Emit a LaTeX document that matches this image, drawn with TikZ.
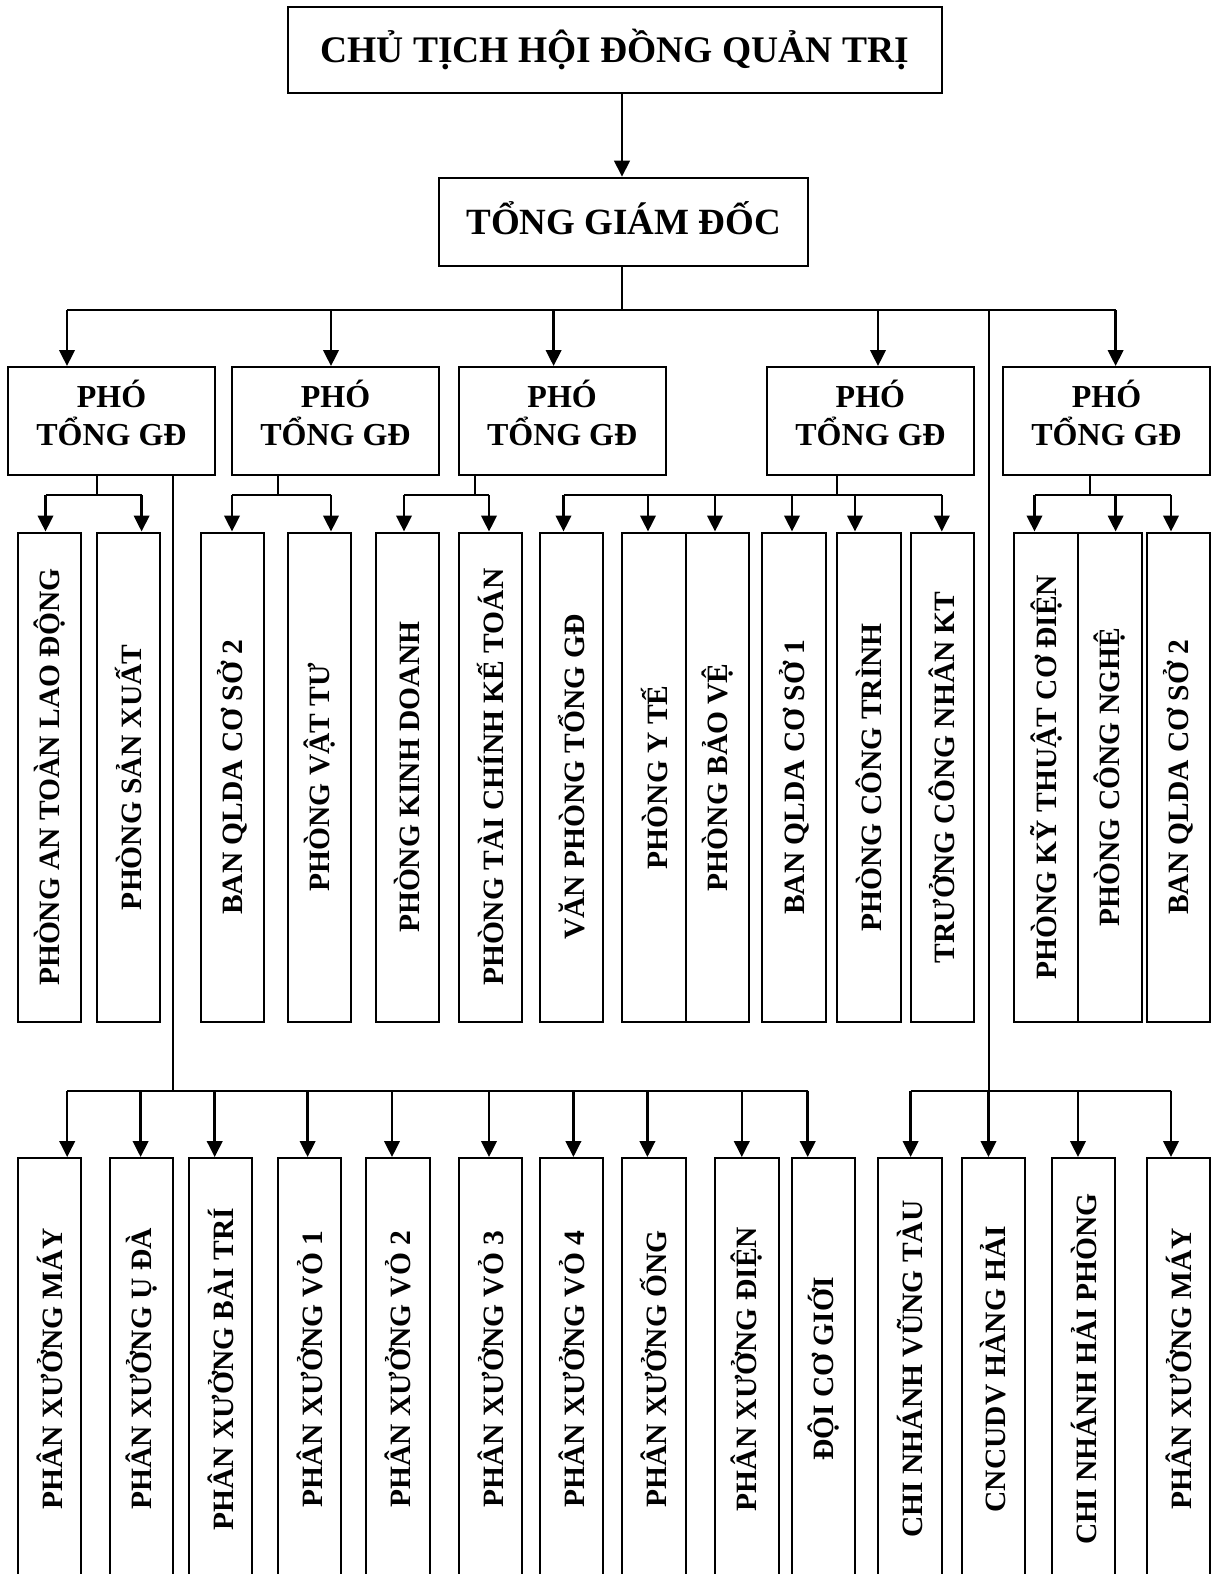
\documentclass[tikz,border=0pt]{standalone}
\usepackage{fontspec}
\usepackage{graphicx}
\setmainfont{Liberation Serif}
\usetikzlibrary{arrows.meta}

\tikzset{
  unit/.style={draw, line width=2pt, inner sep=0pt, font=\bfseries},
  wire/.style={line width=2pt},
  trunk/.style={line width=1.7pt},
  arr/.style={line width=2.5pt, -{Triangle[length=16pt,width=15.5pt]}},
  vtext/.style={font=\bfseries\fontsize{29.5}{32}\selectfont},
  deputy/.style={align=center, text depth=17pt, font=\bfseries\fontsize{32}{38}\selectfont},
}

% box from (x1,y1) to (x2,y2): \unitbox[options]{name}{x1}{y1}{x2}{y2}{text}
\newcommand\unitbox[7][]{%
  \pgfmathsetmacro\ubw{#5-#3}\pgfmathsetmacro\ubh{#6-#4}%
  \pgfmathsetmacro\ubx{(#3+#5)/2}\pgfmathsetmacro\uby{(#4+#6)/2}%
  \node[unit,minimum width=\ubw pt,minimum height=\ubh pt,#1] (#2) at (\ubx,\uby) {#7};}
\newcommand\up[1]{\rotatebox{90}{#1}}

\begin{document}
\begin{tikzpicture}[x=1pt,y=-1pt]
\useasboundingbox (0,0) rectangle (1211,1574);

% chairman and general director
\unitbox[font=\bfseries\fontsize{37.5}{40}\selectfont]{chair}{287.7}{6.7}{941.5}{92.7}{CHỦ TỊCH HỘI ĐỒNG QUẢN TRỊ}
\unitbox[text depth=8pt,font=\bfseries\fontsize{37}{40}\selectfont]{tgd}{439.4}{177.7}{807.8}{266}{TỔNG GIÁM ĐỐC}
\coordinate (cx) at (622,0);
\draw[arr] (cx |- chair.south) -- (cx |- tgd.north);

% deputy directors
\unitbox[deputy]{pgd1}{8}{367}{215}{475}{PHÓ\\TỔNG GĐ}
\unitbox[deputy]{pgd2}{232}{367}{439}{475}{PHÓ\\TỔNG GĐ}
\unitbox[deputy]{pgd3}{458.7}{367}{665.6}{475}{PHÓ\\TỔNG GĐ}
\unitbox[deputy]{pgd4}{766.8}{367}{974}{475}{PHÓ\\TỔNG GĐ}
\unitbox[deputy]{pgd5}{1003}{367}{1210}{475}{PHÓ\\TỔNG GĐ}

\coordinate (hub) at (622,310);
\draw[wire] (hub |- tgd.south) -- (hub);
\foreach \x/\n in {67/pgd1,331/pgd2,553.6/pgd3,878/pgd4,1115.6/pgd5}{
  \coordinate (tap-\n) at (\x,310);
  \draw[arr] (tap-\n) -- (tap-\n |- \n.north);
}
\draw[wire] (tap-pgd1) -- (tap-pgd5);

% departments
\unitbox[vtext]{ra}{18}{532.5}{81}{1022}{\up{PHÒNG AN TOÀN LAO ĐỘNG}}
\unitbox[vtext]{rb}{97}{532.5}{160}{1022}{\up{PHÒNG SẢN XUẤT}}
\unitbox[vtext]{rc}{201}{532.5}{264}{1022}{\up{BAN QLDA CƠ SỞ 2}}
\unitbox[vtext]{rd}{287.5}{532.5}{351}{1022}{\up{PHÒNG VẬT TƯ}}
\unitbox[vtext]{re}{375.6}{532.5}{439}{1022}{\up{PHÒNG KINH DOANH}}
\unitbox[vtext]{rf}{458.7}{532.5}{522}{1022}{\up{PHÒNG TÀI CHÍNH KẾ TOÁN}}
\unitbox[vtext]{rg}{539.7}{532.5}{603}{1022}{\up{VĂN PHÒNG TỔNG GĐ}}
\unitbox[vtext]{rh}{622}{532.5}{686}{1022}{\up{PHÒNG Y TẾ}}
\unitbox[vtext]{ri}{686}{532.5}{749}{1022}{\up{PHÒNG BẢO VỆ}}
\unitbox[vtext]{rj}{762}{532.5}{826}{1022}{\up{BAN QLDA CƠ SỞ 1}}
\unitbox[vtext]{rk}{837}{532.5}{901}{1022}{\up{PHÒNG CÔNG TRÌNH}}
\unitbox[vtext]{rl}{910.6}{532.5}{974}{1022}{\up{TRƯỞNG CÔNG NHÂN KT}}
\unitbox[vtext]{rm}{1014}{532.5}{1078}{1022}{\up{PHÒNG KỸ THUẬT CƠ ĐIỆN}}
\unitbox[vtext]{rn}{1078}{532.5}{1142}{1022}{\up{PHÒNG CÔNG NGHỆ}}
\unitbox[vtext]{ro}{1147}{532.5}{1210}{1022}{\up{BAN QLDA CƠ SỞ 2}}

% department feeders: stem x under each deputy
\foreach \s/\p in {97/pgd1,278/pgd2,475/pgd3,837/pgd4,1090/pgd5}{
  \coordinate (stem-\p) at (\s,495);
  \draw[wire] (stem-\p |- \p.south) -- (stem-\p);
}
\foreach \x/\n in {45.5/ra,141.6/rb,232/rc,331/rd,404/re,489/rf,563.5/rg,648/rh,715/ri,792/rj,855/rk,941.8/rl,1034.5/rm,1115.6/rn,1171/ro}{
  \coordinate (tap-\n) at (\x,495);
  \draw[arr] (tap-\n) -- (tap-\n |- \n.north);
}
\draw[wire] (tap-ra) -- (tap-rb);
\draw[wire] (tap-rc) -- (tap-rd);
\draw[wire] (tap-re) -- (tap-rf);
\draw[wire] (tap-rg) -- (tap-rl);
\draw[wire] (tap-rm) -- (tap-ro);

% workshops and branches
\unitbox[vtext]{wa}{17.8}{1158}{81}{1580}{\up{PHÂN XƯỞNG MÁY}}
\unitbox[vtext]{wb}{110}{1158}{173}{1580}{\up{PHÂN XƯỞNG Ụ ĐÀ}}
\unitbox[vtext]{wc}{189}{1158}{252}{1580}{\up{PHÂN XƯỞNG BÀI TRÍ}}
\unitbox[vtext]{wd}{278}{1158}{341}{1580}{\up{PHÂN XƯỞNG VỎ 1}}
\unitbox[vtext]{we}{366}{1158}{430}{1580}{\up{PHÂN XƯỞNG VỎ 2}}
\unitbox[vtext]{wf}{459}{1158}{522}{1580}{\up{PHÂN XƯỞNG VỎ 3}}
\unitbox[vtext]{wg}{540}{1158}{603}{1580}{\up{PHÂN XƯỞNG VỎ 4}}
\unitbox[vtext]{wh}{622}{1158}{685.7}{1580}{\up{PHÂN XƯỞNG ỐNG}}
\unitbox[vtext]{wi}{715}{1158}{778.5}{1580}{\up{PHÂN XƯỞNG ĐIỆN}}
\unitbox[vtext]{wj}{791.7}{1158}{855}{1580}{\up{ĐỘI CƠ GIỚI}}
\unitbox[vtext]{wk}{878}{1158}{941.8}{1580}{\up{CHI NHÁNH VŨNG TÀU}}
\unitbox[vtext]{wl}{961.6}{1158}{1024.8}{1580}{\up{CNCUDV HÀNG HẢI}}
\unitbox[vtext]{wm}{1052}{1158}{1115}{1580}{\up{CHI NHÁNH HẢI PHÒNG}}
\unitbox[vtext]{wn}{1146.8}{1158}{1210}{1580}{\up{PHÂN XƯỞNG MÁY}}

% left trunk from the first deputy, right trunk from the main bus
\coordinate (ltrunk) at (173,1090.7);
\draw[trunk] (ltrunk |- pgd1.south) -- (ltrunk);
\coordinate (rtrunk) at (989,1090.7);
\draw[trunk] (rtrunk |- hub) -- (rtrunk);

\foreach \x/\n in {67.2/wa,140.6/wb,214.7/wc,307.6/wd,392/we,489/wf,573.4/wg,647.4/wh,741.8/wi,807.7/wj,910.6/wk,988.5/wl,1078/wm,1171/wn}{
  \coordinate (tap-\n) at (\x,1090.7);
  \draw[arr] (tap-\n) -- (tap-\n |- \n.north);
}
\draw[wire] (tap-wa) -- (tap-wj);
\draw[wire] (tap-wk) -- (tap-wn);
\end{tikzpicture}
\end{document}
